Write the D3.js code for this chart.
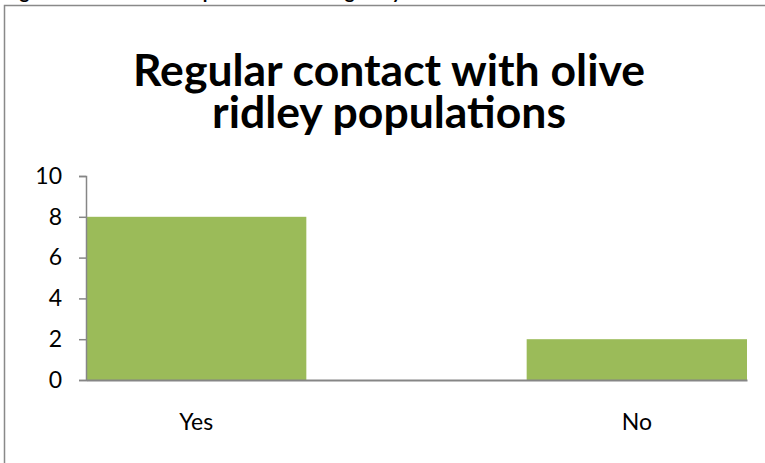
<!DOCTYPE html>
<html>
<head>
<meta charset="utf-8">
<script src="https://cdn.jsdelivr.net/npm/d3@7"></script>
<style>
  html, body { margin: 0; padding: 0; background: #fff; }
  svg { display: block; }
</style>
</head>
<body>
<svg id="chart" width="765" height="463"></svg>
<script>
// Survey answers: regular contact with olive ridley populations
const categories = ["Yes", "No"];
const counts = [8, 2];
const yTicks = [0, 2, 4, 6, 8, 10];
const titleLines = ["Regular contact with olive", "ridley populations"];
const captionText = "Figure 3: Number of respondents who regularly";

const svg = d3.select("#chart");
const W = 765, H = 463;
const font = "Lato, 'Open Sans', sans-serif";

// caption line of the page above the chart, running off the top edge
svg.append("text")
  .attr("x", 4).attr("y", -1)
  .attr("font-family", font).attr("font-weight", "bold")
  .attr("font-size", 19).attr("fill", "#000")
  .text(captionText);

// chart frame (continues past the right and bottom edges)
svg.append("rect")
  .attr("x", 4.5).attr("y", 5.5)
  .attr("width", W + 10).attr("height", H + 10)
  .attr("fill", "#fff").attr("stroke", "#898989").attr("stroke-width", 1.5);

// title
const title = svg.append("text")
  .attr("text-anchor", "middle")
  .attr("font-family", font).attr("font-weight", "bold")
  .attr("font-size", 44.5).attr("fill", "#000");
title.selectAll("tspan").data(titleLines).join("tspan")
  .attr("x", 389)
  .attr("y", (d, i) => 86 + i * 42)
  .text(d => d);

// scales
const plot = { left: 86, right: 747, top: 176, bottom: 380 };
const x = d3.scaleBand().domain(categories)
  .range([plot.left, plot.right]).paddingInner(0.5).paddingOuter(0);
const y = d3.scaleLinear().domain([0, 10]).range([plot.bottom, plot.top]);

// bars
svg.append("g").selectAll("rect")
  .data(categories.map((c, i) => ({ c, v: counts[i] })))
  .join("rect")
  .attr("x", d => x(d.c))
  .attr("width", x.bandwidth())
  .attr("y", d => y(d.v))
  .attr("height", d => y(0) - y(d.v))
  .attr("fill", "#9BBB59");

// y axis
const yAxis = svg.append("g")
  .attr("transform", `translate(${plot.left},0)`)
  .call(d3.axisLeft(y).tickValues(yTicks).tickSize(7).tickPadding(17).tickSizeOuter(7));
yAxis.selectAll("path, line").attr("stroke", "#868686").attr("stroke-width", 1.5);
yAxis.selectAll("text")
  .attr("font-family", font).attr("font-size", 23).attr("fill", "#000");

// x axis
const xAxis = svg.append("g")
  .attr("transform", `translate(0,${plot.bottom})`)
  .call(d3.axisBottom(x).tickSize(0).tickSizeOuter(0).tickPadding(34));
xAxis.select("path").attr("stroke", "#868686").attr("stroke-width", 2);
xAxis.selectAll("text")
  .attr("font-family", font).attr("font-size", 23).attr("fill", "#000");
</script>
</body>
</html>
